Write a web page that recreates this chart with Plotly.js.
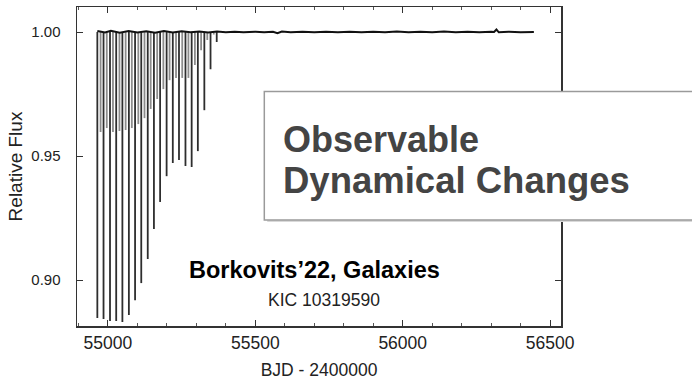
<!DOCTYPE html>
<html>
<head>
<meta charset="utf-8">
<script src="https://cdn.plot.ly/plotly-3.0.1.min.js"></script>
<style>html,body{margin:0;padding:0;background:#fff;}#chart{width:692px;height:380px;}</style>
</head>
<body>
<div id="chart"></div>
<script>
// Primary (deep) eclipses: mid-times (BJD-2400000) and minimum relative flux
const primaryTimes  = [54964, 54985, 55007, 55028, 55049, 55071, 55092, 55113, 55135, 55156, 55177, 55199, 55220, 55241, 55263, 55284, 55305, 55327, 55348, 55369];
const primaryDepths = [0.8847, 0.8843, 0.8835, 0.8835, 0.8831, 0.8859, 0.8919, 0.8988, 0.9085, 0.9206, 0.9315, 0.9419, 0.9472, 0.9484, 0.9460, 0.9456, 0.9520, 0.9685, 0.9850, 0.9960];
// Secondary (shallow) eclipses
const secondaryTimes  = [54975, 54996, 55017, 55039, 55060, 55081, 55103, 55124, 55145, 55167, 55188, 55209, 55231, 55252, 55273, 55295, 55316, 55337, 55359];
const secondaryDepths = [0.9597, 0.9613, 0.9597, 0.9601, 0.9605, 0.9613, 0.9629, 0.9653, 0.9690, 0.9730, 0.9770, 0.9806, 0.9815, 0.9815, 0.9815, 0.9867, 0.9927, 0.9968, 0.9990];
// Out-of-eclipse baseline
const baselineTimes = [54964, 54990, 55010, 55040, 55070, 55100, 55130, 55160, 55190, 55220, 55250, 55280, 55310, 55340, 55370, 55400, 55430, 55460, 55500, 55530, 55560, 55575, 55590, 55620, 55660, 55700, 55740, 55780, 55820, 55860, 55900, 55940, 55980, 56020, 56060, 56100, 56140, 56180, 56220, 56260, 56300, 56310, 56318, 56326, 56360, 56400, 56445];
const baselineFlux  = [1.0004, 0.9998, 1.0005, 0.9997, 1.0004, 0.9998, 1.0003, 0.9997, 1.0004, 0.9998, 1.0003, 0.9999, 1.0002, 0.9998, 1.0002, 0.9999, 1.0001, 0.9999, 1.0001, 0.9999, 1.0001, 0.9995, 1.0002, 0.9999, 1.0001, 0.9999, 1.0001, 0.9999, 1.0001, 0.9999, 1.0001, 0.9999, 1.0002, 0.9999, 1.0001, 0.9999, 1.0002, 0.9999, 1.0001, 0.9999, 1.0001, 1.0000, 1.0010, 0.9999, 1.0001, 0.9999, 1.0000];
const xTickVals = [55000, 55500, 56000, 56500];
const yTickVals = [0.90, 0.95, 1.00];

function segs(times, depths) {
  const x = [], y = [];
  times.forEach((t, i) => { x.push(t, t, null); y.push(1.0, depths[i], null); });
  return {x, y};
}
const s = segs(secondaryTimes, secondaryDepths);
const p = segs(primaryTimes, primaryDepths);

const FONT = 'Liberation Sans, Arial, Helvetica, sans-serif';
const data = [
  {x: s.x, y: s.y, mode: 'lines', line: {color: '#8c8c8c', width: 1.8}, hoverinfo: 'skip', showlegend: false},
  {x: p.x, y: p.y, mode: 'lines', line: {color: '#2e2e2e', width: 1.8}, hoverinfo: 'skip', showlegend: false},
  {x: baselineTimes, y: baselineFlux, mode: 'lines', line: {color: '#111', width: 2}, hoverinfo: 'skip', showlegend: false}
];

const axisCommon = {
  showgrid: false, zeroline: false, showline: true, mirror: 'ticks',
  linecolor: '#333', linewidth: 1.5, ticks: 'inside', ticklen: 6, tickcolor: '#333', tickwidth: 1
};

const layout = {
  width: 692, height: 380,
  margin: {l: 77, r: 131, t: 7, b: 54},
  paper_bgcolor: '#fff', plot_bgcolor: '#fff',
  xaxis: Object.assign({}, axisCommon, {
    range: [54895, 56537], tickvals: xTickVals, ticktext: xTickVals.map(String),
    tickfont: {family: FONT, size: 17.5, color: '#222'},
    minor: {dtick: 100, tick0: 55000, ticks: 'inside', ticklen: 3, tickcolor: '#555'},
    title: {text: 'BJD - 2400000', font: {family: FONT, size: 17.5, color: '#222'}, standoff: 12}
  }),
  yaxis: Object.assign({}, axisCommon, {
    range: [0.8815, 1.0101], tickvals: yTickVals, ticktext: yTickVals.map(v => v.toFixed(2)),
    tickfont: {family: FONT, size: 15, color: '#222'},
    ticklabelstandoff: 12, automargin: true,
    title: {text: 'Relative Flux', font: {family: FONT, size: 19, color: '#222'}, standoff: 3}
  }),
  shapes: [
    {type: 'rect', xref: 'paper', yref: 'paper', x0: 0.393, x1: 1.30, y0: 0.326, y1: 0.729,
     fillcolor: '#d9d9d9', line: {width: 0}, layer: 'above'},
    {type: 'rect', xref: 'paper', yref: 'paper', x0: 0.387, x1: 1.30, y0: 0.332, y1: 0.735,
     fillcolor: '#ffffff', line: {color: '#9a9a9a', width: 1.5}, layer: 'above'}
  ],
  annotations: [
    {xref: 'paper', yref: 'paper', x: 0.422, y: 0.584, xanchor: 'left', yanchor: 'middle', showarrow: false,
     text: '<b>Observable</b>', font: {family: FONT, size: 36, color: '#444'}},
    {xref: 'paper', yref: 'paper', x: 0.422, y: 0.455, xanchor: 'left', yanchor: 'middle', showarrow: false,
     text: '<b>Dynamical Changes</b>', font: {family: FONT, size: 36.5, color: '#444'}},
    {xref: 'paper', yref: 'paper', x: 0.49, y: 0.176, xanchor: 'center', yanchor: 'middle', showarrow: false,
     text: '<b>Borkovits’22, Galaxies</b>', font: {family: FONT, size: 23.5, color: '#000'}},
    {xref: 'paper', yref: 'paper', x: 0.51, y: 0.082, xanchor: 'center', yanchor: 'middle', showarrow: false,
     text: 'KIC 10319590', font: {family: FONT, size: 17.5, color: '#222'}}
  ]
};

Plotly.newPlot('chart', data, layout, {staticPlot: true, displayModeBar: false});
</script>
</body>
</html>
